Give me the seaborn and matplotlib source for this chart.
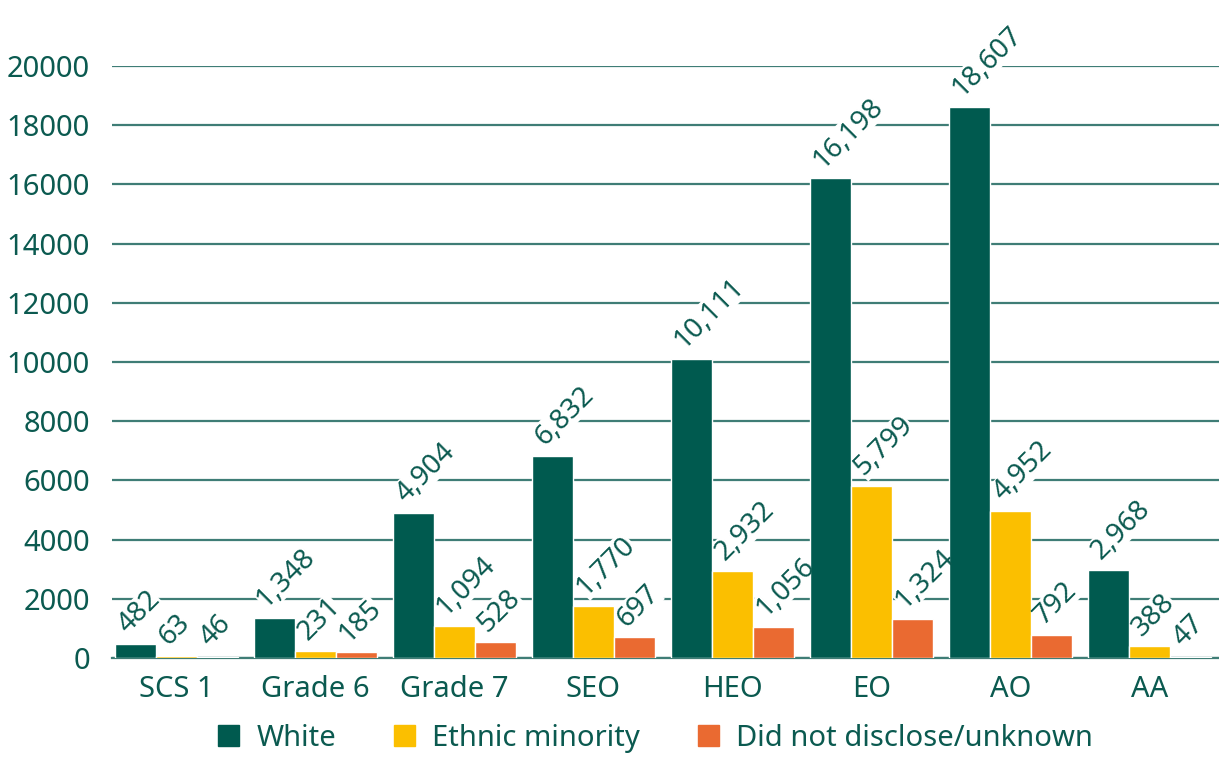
import pandas as pd
import matplotlib.pyplot as plt
import seaborn as sns

# datos del gráfico
grades = ["SCS 1", "Grade 6", "Grade 7", "SEO", "HEO", "EO", "AO", "AA"]
white = [482, 1348, 4904, 6832, 10111, 16198, 18607, 2968]
ethnic_minority = [63, 231, 1094, 1770, 2932, 5799, 4952, 388]
not_disclosed = [46, 185, 528, 697, 1056, 1324, 792, 47]
groups = ["White", "Ethnic minority", "Did not disclose/unknown"]
colors = ["#005a4f", "#fbbf00", "#ea6a31"]

data = pd.DataFrame({
    "grade": grades * 3,
    "group": [groups[0]] * 8 + [groups[1]] * 8 + [groups[2]] * 8,
    "count": white + ethnic_minority + not_disclosed,
})

sns.set_style("white")
plt.rcParams["font.family"] = ["Noto Sans", "DejaVu Sans"]
text_color = "#0b5a50"
grid_color = "#3f7d76"

fig = plt.figure(figsize=(12.19, 7.58), dpi=100)
ax = fig.add_axes([0.092, 0.132, 0.908, 0.781])

sns.barplot(data=data, x="grade", y="count", hue="group", palette=colors,
            width=0.885, saturation=1, ax=ax, zorder=3, legend=False)

ax.set_ylim(0, 20000)
ax.set_xlim(-0.46, 7.5)
ax.set_yticks(range(0, 20001, 2000))
ax.yaxis.grid(True, color=grid_color, linewidth=1.6, zorder=0)
ax.set_axisbelow(True)
for side in ["left", "right", "top"]:
    ax.spines[side].set_visible(False)
ax.spines["bottom"].set_color(grid_color)
ax.spines["bottom"].set_linewidth(1.6)
ax.tick_params(axis="both", length=0, labelsize=21, labelcolor=text_color)
ax.tick_params(axis="y", pad=16)
ax.tick_params(axis="x", pad=12)
ax.set_xlabel("")
ax.set_ylabel("")

# etiquetas de valor rotadas:
# una copia blanca con fondo bajo las barras (corta la rejilla) y el texto encima
for container in ax.containers:
    for bar in container:
        h = bar.get_height()
        label = f"{int(h):,}"
        common = dict(xytext=(9, 7), textcoords="offset points",
                      ha="left", va="baseline", rotation=45,
                      rotation_mode="anchor", fontsize=20,
                      annotation_clip=False)
        ax.annotate(label, (bar.get_x(), h), color="white", zorder=2.5,
                    bbox=dict(boxstyle="square,pad=0.0", fc="white", ec="none"),
                    **common)
        ax.annotate(label, (bar.get_x(), h), color=text_color, zorder=4, **common)

# leyenda abajo
handles = [plt.Rectangle((0, 0), 1, 1, color=c) for c in colors]
fig.legend(handles, groups, loc="center", bbox_to_anchor=(0.538, 0.026), ncol=3,
           frameon=False, fontsize=21, labelcolor=text_color,
           handlelength=0.7, handleheight=0.7, handletextpad=0.6,
           columnspacing=2.0, borderpad=0)

fig.savefig("out.png", dpi=100)
